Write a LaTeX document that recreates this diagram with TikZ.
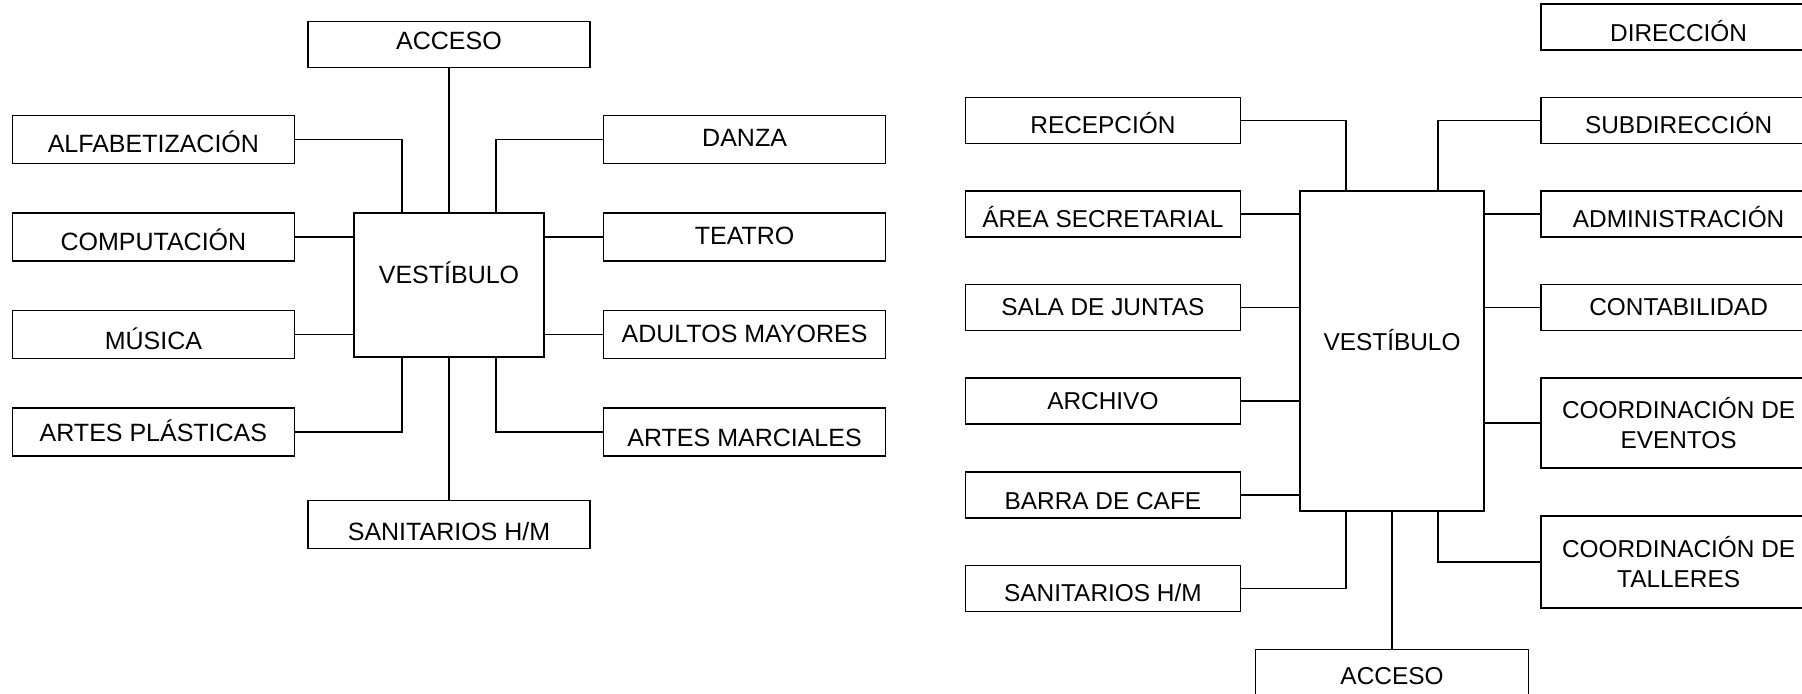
\documentclass[tikz,border=0pt]{standalone}
\usepackage{fontspec}
\setmainfont{Liberation Sans}
\usetikzlibrary{positioning}
\tikzset{salabox/.style={draw,line width=0.8pt,minimum width=141pt,minimum height=24pt,inner sep=0pt,align=center,font=\fontsize{12.5}{15}\selectfont},
  salabtwo/.style={draw,line width=0.8pt,minimum width=137.5pt,minimum height=23pt,inner sep=0pt,align=center,font=\fontsize{12.2}{15}\selectfont},
  alto/.style={text height=#1,text depth=0pt},
  enlace/.style={line width=0.8pt}
}
\begin{document}
\begin{tikzpicture}
  \useasboundingbox (0,0) rectangle (901pt,-346.5pt);

  % Vestibulo (talleres)
    \node[salabox, minimum width=95pt, minimum height=72pt, text height=0pt, text depth=2pt] (v1) at (224.5pt,-142.5pt) {VESTÍBULO};
    \node[salabox, alto=5pt, minimum height=23pt, above = 72pt of v1] (acc1) {ACCESO};
    \node[salabox, alto=16pt, below = 71pt of v1] (san1) {SANITARIOS H/M};

    % Lado izquierdo
    \node[salabox, alto=13.5pt, left = 29pt of v1.north west, anchor=north east] (com) {COMPUTACIÓN};
    \node[salabox, alto=13.5pt, above = 24pt of com] (alf) {ALFABETIZACIÓN};
    \node[salabox, alto=15pt, below = 24pt of com] (mus) {MÚSICA};
    \node[salabox, alto=9pt, below = 24pt of mus] (apl) {ARTES PLÁSTICAS};

    % Lado derecho
    \node[salabox, alto=7.5pt, right = 29pt of v1.north east, anchor=north west] (tea) {TEATRO};
    \node[salabox, alto=7.5pt, above = 24pt of tea] (dan) {DANZA};
    \node[salabox, alto=7.5pt, below = 24pt of tea] (adu) {ADULTOS MAYORES};
    \node[salabox, alto=14pt, below = 24pt of adu] (ama) {ARTES MARCIALES};

    % Vestibulo (oficinas)
    \node[salabtwo, minimum width=92pt, minimum height=160pt, text height=0pt, text depth=0.3pt] (v2) at (696pt,-175.5pt) {VESTÍBULO};
    \node[salabtwo, alto=12.2pt, minimum width=136.5pt, below = 68.5pt of v2] (acc2) {ACCESO};

    % Lado izquierdo
    \node[salabtwo, alto=13.7pt, left = 29pt of v2.north west, anchor=north east] (are) {ÁREA SECRETARIAL};
    \node[salabtwo, alto=12.7pt, above = 23pt of are] (rec) {RECEPCIÓN};
    \node[salabtwo, alto=7.7pt, below = 23pt of are] (sal) {SALA DE JUNTAS};
    \node[salabtwo, alto=8.7pt, below = 23pt of sal] (arc) {ARCHIVO};
    \node[salabtwo, alto=14.7pt, below = 23pt of arc] (bar) {BARRA DE CAFE};
    \node[salabtwo, alto=12.7pt, below = 23pt of bar] (san2) {SANITARIOS H/M};

    % Lado derecho
    \node[salabtwo, alto=13.7pt, right = 27.75pt of v2.north east, anchor=north west] (adm) {ADMINISTRACIÓN};
    \node[salabtwo, alto=12.7pt, above = 23pt of adm] (sub) {SUBDIRECCIÓN};
    \node[salabtwo, alto=15pt, above = 23pt of sub] (dir) {DIRECCIÓN};
    \node[salabtwo, alto=7.7pt, below = 23pt of adm] (con) {CONTABILIDAD};
    \node[salabtwo, minimum height=45pt, below = 23pt of con] (eve) {COORDINACIÓN DE\\EVENTOS};
    \node[salabtwo, minimum height=46pt, below = 23pt of eve] (tal) {COORDINACIÓN DE\\TALLERES};

    % Conexiones (talleres)
    \draw[enlace] (acc1.south) -- (v1.north);
    \draw[enlace] (alf.east) -| ([xshift=-23.5pt]v1.north);
    \draw[enlace] (dan.west) -| ([xshift=23.5pt]v1.north);
    \draw[enlace] (com.east) -- (com.east -| v1.west);
    \draw[enlace] (mus.east) -- (mus.east -| v1.west);
    \draw[enlace] (tea.west) -- (tea.west -| v1.east);
    \draw[enlace] (adu.west) -- (adu.west -| v1.east);
    \draw[enlace] (apl.east) -| ([xshift=-23.5pt]v1.south);
    \draw[enlace] (ama.west) -| ([xshift=23.5pt]v1.south);
    \draw[enlace] (v1.south) -- (san1.north);

    % Conexiones (oficinas)
    \draw[enlace] (rec.east) -| ([xshift=-23pt]v2.north);
    \draw[enlace] (sub.west) -| ([xshift=23pt]v2.north);
    \draw[enlace] (are.east) -- (are.east -| v2.west);
    \draw[enlace] (sal.east) -- (sal.east -| v2.west);
    \draw[enlace] (arc.east) -- (arc.east -| v2.west);
    \draw[enlace] (bar.east) -- (bar.east -| v2.west);
    \draw[enlace] (adm.west) -- (adm.west -| v2.east);
    \draw[enlace] (con.west) -- (con.west -| v2.east);
    \draw[enlace] (eve.west) -- (eve.west -| v2.east);
    \draw[enlace] (san2.east) -| ([xshift=-23pt]v2.south);
    \draw[enlace] (tal.west) -| ([xshift=23pt]v2.south);
    \draw[enlace] (v2.south) -- (acc2.north);

  \end{tikzpicture}
\end{document}
